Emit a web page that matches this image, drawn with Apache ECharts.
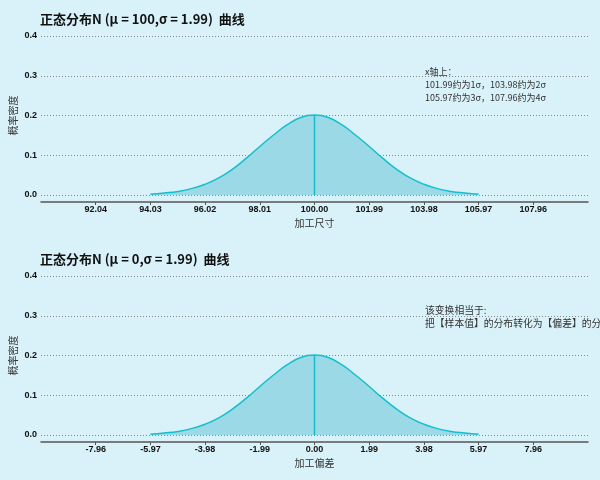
<!doctype html>
<html lang="zh">
<head>
    <meta charset="UTF-8">
    <title>正态分布曲线</title>
    <script src="https://cdn.jsdelivr.net/npm/echarts@6/dist/echarts.min.js"></script>
    <style>
        html, body { margin: 0; padding: 0; background: #d9f1f8; }
        #main { width: 600px; height: 480px; }
    </style>
</head>
<body>
<div id="main"></div>
<script type="text/javascript">
    // 参数
    var mu1 = 100, mu2 = 0, sigma = 1.99;
    // 概率密度（读图，按 0.25σ 取点，从 -3σ 到 3σ）
    var xSize = [94.03, 94.53, 95.03, 95.52, 96.02, 96.52, 97.02, 97.51, 98.01, 98.51, 99.01, 99.50, 100.00,
        100.50, 100.99, 101.49, 101.99, 102.49, 102.98, 103.48, 103.98, 104.48, 104.97, 105.47, 105.97];
    var xDev = [-5.97, -5.47, -4.97, -4.48, -3.98, -3.48, -2.99, -2.49, -1.99, -1.49, -0.99, -0.50, 0.00,
        0.50, 0.99, 1.49, 1.99, 2.49, 2.99, 3.48, 3.98, 4.48, 4.97, 5.47, 5.97];
    var density = [0.002, 0.005, 0.009, 0.016, 0.027, 0.043, 0.065, 0.092, 0.122, 0.151, 0.177, 0.195, 0.201,
        0.195, 0.177, 0.151, 0.122, 0.092, 0.065, 0.043, 0.027, 0.016, 0.009, 0.005, 0.002];
    // 刻度
    var ticksSize = [92.04, 94.03, 96.02, 98.01, 100.00, 101.99, 103.98, 105.97, 107.96];
    var ticksDev = [-7.96, -5.97, -3.98, -1.99, 0.00, 1.99, 3.98, 5.97, 7.96];
    var peak = 0.2005;

    var lineColor = '#13bfcc';
    var fillColor = '#9bd9e6';
    var fontCN = '"Noto Sans CJK SC", "Noto Sans", sans-serif';

    var zip = function (xs, ys) {
        return xs.map(function (x, i) { return [x, ys[i]]; });
    };

    var makeX = function (idx, mu, ticks, name) {
        return {
            type: 'value', gridIndex: idx,
            min: mu - 5 * sigma, max: mu + 5 * sigma,
            offset: 7,
            name: name, nameLocation: 'middle', nameGap: 16,
            nameTextStyle: { fontSize: 10, color: '#333', fontFamily: fontCN },
            axisLine: { show: true, onZero: false, lineStyle: { color: '#555', width: 1.5 } },
            axisTick: { show: true, customValues: ticks, length: 3, lineStyle: { color: '#555' } },
            axisLabel: {
                customValues: ticks, fontSize: 9, fontWeight: 'bold', color: '#111', margin: 3,
                formatter: function (v) { return v.toFixed(2); }
            },
            splitLine: { show: false }
        };
    };
    var makeY = function (idx) {
        return {
            type: 'value', gridIndex: idx, min: 0, max: 0.4, interval: 0.1,
            name: '概率密度', nameLocation: 'middle', nameGap: 23, nameMoveOverlap: false,
            nameTextStyle: { fontSize: 10, color: '#333', fontFamily: fontCN },
            axisLine: { show: false }, axisTick: { show: false },
            axisLabel: {
                fontSize: 9, fontWeight: 'bold', color: '#111', margin: 4,
                formatter: function (v) { return v.toFixed(1); }
            },
            splitLine: { show: true, lineStyle: { color: '#888', type: [1, 2], width: 1 } }
        };
    };
    var makeCurve = function (idx, xs) {
        return {
            type: 'line', xAxisIndex: idx, yAxisIndex: idx,
            data: zip(xs, density), smooth: true, symbol: 'none',
            lineStyle: { color: lineColor, width: 1.5 },
            areaStyle: { color: fillColor, opacity: 1 },
            silent: true
        };
    };
    var makeMean = function (idx, mu) {
        return {
            type: 'line', xAxisIndex: idx, yAxisIndex: idx,
            data: [[mu, 0], [mu, peak]], symbol: 'none',
            lineStyle: { color: lineColor, width: 1.5 },
            silent: true
        };
    };

    var myChart = echarts.init(document.getElementById('main'));
    var option = {
        backgroundColor: '#d9f1f8',
        animation: false,
        title: [
            { text: '正态分布N (μ = 100,σ = 1.99)  曲线', left: 35, top: 8,
              textStyle: { fontSize: 13, fontWeight: 'bold', color: '#111', fontFamily: fontCN } },
            { text: '正态分布N (μ = 0,σ = 1.99)  曲线', left: 35, top: 248,
              textStyle: { fontSize: 13, fontWeight: 'bold', color: '#111', fontFamily: fontCN } }
        ],
        grid: [
            { left: 41, right: 12, top: 36, height: 159, outerBoundsMode: 'none' },
            { left: 41, right: 12, top: 276, height: 159, outerBoundsMode: 'none' }
        ],
        xAxis: [makeX(0, mu1, ticksSize, '加工尺寸'), makeX(1, mu2, ticksDev, '加工偏差')],
        yAxis: [makeY(0), makeY(1)],
        series: [makeCurve(0, xSize), makeMean(0, mu1), makeCurve(1, xDev), makeMean(1, mu2)],
        graphic: [
            { type: 'text', left: 425, top: 65,
              style: { text: 'x轴上：\n101.99约为1σ，103.98约为2σ\n105.97约为3σ，107.96约为4σ',
                       fontSize: 9, lineHeight: 13, fill: '#333', fontFamily: fontCN } },
            { type: 'text', left: 425, top: 304,
              style: { text: '该变换相当于:\n把【样本值】的分布转化为【偏差】的分布',
                       fontSize: 9.8, lineHeight: 13, fill: '#333', fontFamily: fontCN } }
        ]
    };
    myChart.setOption(option);
</script>
</body>
</html>
